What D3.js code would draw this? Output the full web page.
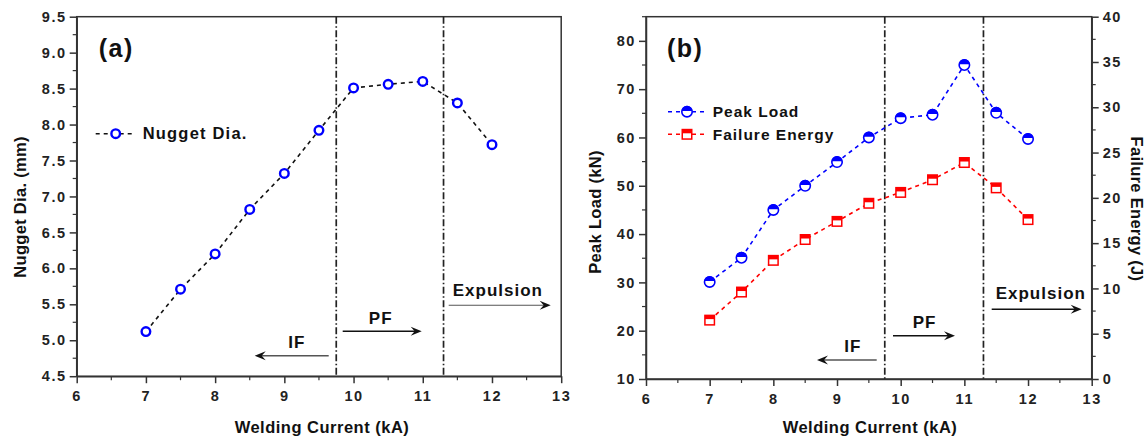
<!DOCTYPE html>
<html>
<head>
<meta charset="utf-8">
<script src="https://cdn.jsdelivr.net/npm/d3@7"></script>
<style>
  body { margin: 0; background: #fff; }
  svg { font-family: "Liberation Sans", Arial, sans-serif; }
  .tick text { font-size: 14.5px; font-weight: bold; fill: #222; letter-spacing: 1.6px; }
  .domain, .tick line { stroke: #333; stroke-width: 1.5; }
</style>
</head>
<body>
<svg width="1148" height="441"></svg>
<script>
// values
var current = [7, 7.5, 8, 8.5, 9, 9.5, 10, 10.5, 11, 11.5, 12];
var nuggetDia = [5.12, 5.71, 6.2, 6.82, 7.32, 7.92, 8.51, 8.56, 8.6, 8.3, 7.72];
var peakLoad = [30.1, 35.1, 45, 50, 54.9, 60, 64, 64.7, 75, 65.1, 59.7];
var failureEnergy = [6.5, 9.6, 13.1, 15.4, 17.4, 19.4, 20.6, 22.0, 23.9, 21.1, 17.6];
var xTicks = [6, 7, 8, 9, 10, 11, 12, 13];
var diaTicks = [4.5, 5.0, 5.5, 6.0, 6.5, 7.0, 7.5, 8.0, 8.5, 9.0, 9.5];
var loadTicks = [10, 20, 30, 40, 50, 60, 70, 80];
var energyTicks = [0, 5, 10, 15, 20, 25, 30, 35, 40];
var zoneLines = [9.75, 11.3];

var svg = d3.select("svg");

function minorTicks(g, scale, lo, hi, step, orient) {
    var vals = d3.range(lo, hi + 1e-9, step);
    g.selectAll(null).data(vals).enter().append("line")
        .attr("stroke", "#333").attr("stroke-width", 1.2)
        .each(function (v) {
            var s = d3.select(this);
            if (orient == "bottom") s.attr("x1", scale(v)).attr("x2", scale(v)).attr("y1", 0).attr("y2", 4);
            if (orient == "left") s.attr("y1", scale(v)).attr("y2", scale(v)).attr("x1", 0).attr("x2", -4);
            if (orient == "right") s.attr("y1", scale(v)).attr("y2", scale(v)).attr("x1", 0).attr("x2", 4);
        });
}

function frame(g, w, h) {
    g.append("rect").attr("width", w).attr("height", h)
        .attr("fill", "none").attr("stroke", "#333").attr("stroke-width", 1.5);
}

function zones(g, x, h) {
    g.selectAll(null).data(zoneLines).enter().append("line")
        .attr("x1", function (d) {return x(d);})
        .attr("x2", function (d) {return x(d);})
        .attr("y1", 0).attr("y2", h)
        .attr("stroke", "#222").attr("stroke-width", 1.7)
        .attr("stroke-dasharray", "7,2.5,1.5,2.5");
}

function arrow(g, x1, x2, y, color, width) {
    var dir = x2 > x1 ? 1 : -1;
    g.append("line").attr("x1", x1).attr("x2", x2 - dir * 4).attr("y1", y).attr("y2", y)
        .attr("stroke", color).attr("stroke-width", width);
    g.append("path")
        .attr("d", "M" + x2 + "," + y + "L" + (x2 - dir * 11) + "," + (y - 4.5) +
            "L" + (x2 - dir * 7) + "," + y + "L" + (x2 - dir * 11) + "," + (y + 4.5) + "Z")
        .attr("fill", "#111");
}

function label(g, x, y, txt, size, weight, anchor, spacing) {
    return g.append("text").attr("x", x).attr("y", y).text(txt)
        .attr("font-size", size).attr("font-weight", weight || "bold")
        .attr("letter-spacing", spacing == null ? 1 : spacing)
        .attr("text-anchor", anchor || "start").attr("fill", "#111");
}

function halfCircle(g, cx, cy, r, color) {
    g.append("circle").attr("cx", cx).attr("cy", cy).attr("r", r)
        .attr("fill", "#fff").attr("stroke", color).attr("stroke-width", 1.6);
    g.append("path")
        .attr("d", "M" + (cx - r) + "," + (cy - 0.8) + "A" + r + "," + r + " 0 0 1 " + (cx + r) + "," + (cy - 0.8) + "Z")
        .attr("fill", color);
}

function halfSquare(g, cx, cy, s, color) {
    g.append("rect").attr("x", cx - s / 2).attr("y", cy - s / 2).attr("width", s).attr("height", s)
        .attr("fill", "#fff").attr("stroke", color).attr("stroke-width", 1.5);
    g.append("rect").attr("x", cx - s / 2).attr("y", cy - s / 2).attr("width", s).attr("height", s / 2 - 1)
        .attr("fill", color);
}

// ---------- panel (a) ----------
var wA = 484.5, hA = 359.5;
var gA = svg.append("g").attr("transform", "translate(76.7,16.7)");
var xA = d3.scaleLinear().domain([6, 13]).range([0, wA]);
var yA = d3.scaleLinear().domain([4.5, 9.5]).range([hA, 0]);

frame(gA, wA, hA);
gA.append("g").attr("transform", "translate(0," + hA + ")")
    .call(d3.axisBottom(xA).tickValues(xTicks).tickFormat(d3.format("d")).tickSize(7).tickSizeOuter(0).tickPadding(8))
    .call(function (g) {minorTicks(g, xA, 6.5, 12.5, 1, "bottom");});
gA.append("g")
    .call(d3.axisLeft(yA).tickValues(diaTicks).tickFormat(d3.format(".1f")).tickSize(7).tickSizeOuter(0).tickPadding(3))
    .call(function (g) {minorTicks(g, yA, 4.75, 9.25, 0.5, "left");});

zones(gA, xA, hA);

var lineA = d3.line().x(function (d, i) {return xA(current[i]);}).y(function (d) {return yA(d);});
gA.append("path").datum(nuggetDia).attr("d", lineA)
    .attr("fill", "none").attr("stroke", "#111").attr("stroke-width", 1.6).attr("stroke-dasharray", "4,4");
gA.selectAll(".pt").data(nuggetDia).enter().append("circle")
    .attr("cx", function (d, i) {return xA(current[i]);})
    .attr("cy", function (d) {return yA(d);})
    .attr("r", 4.3).attr("fill", "#fff").attr("stroke", "#0000ff").attr("stroke-width", 2.4);

// legend (a)
gA.append("line").attr("x1", 19).attr("x2", 58).attr("y1", 117).attr("y2", 117)
    .attr("stroke", "#111").attr("stroke-width", 1.6).attr("stroke-dasharray", "4,4");
gA.append("circle").attr("cx", 39).attr("cy", 117).attr("r", 4.3)
    .attr("fill", "#fff").attr("stroke", "#0000ff").attr("stroke-width", 2.4);
label(gA, 66, 122.5, "Nugget Dia.", 16.5, "bold", "start", 1.2);
label(gA, 22, 40.7, "(a)", 25, "bold", "start", 1.5);

arrow(gA, 252, 178, 339, "#555", 1.4);
label(gA, 211.5, 331, "IF", 17);
arrow(gA, 266, 345, 314.5, "#111", 1.6);
label(gA, 304, 307.6, "PF", 17, "bold", "middle");
arrow(gA, 372, 474, 288.5, "#555", 1.1);
label(gA, 376, 279.3, "Expulsion", 17);

svg.append("text").attr("x", 322).attr("y", 433).attr("text-anchor", "middle")
    .attr("font-size", 16.5).attr("font-weight", "bold").attr("letter-spacing", 0.5).attr("fill", "#111")
    .text("Welding Current (kA)");
svg.append("text").attr("transform", "translate(26,207) rotate(-90)").attr("text-anchor", "middle")
    .attr("font-size", 16.5).attr("font-weight", "bold").attr("letter-spacing", 0.3).attr("fill", "#111")
    .text("Nugget Dia. (mm)");

// ---------- panel (b) ----------
var wB = 445.7, hB = 362.3;
var gB = svg.append("g").attr("transform", "translate(646,16.7)");
var xB = d3.scaleLinear().domain([6, 13]).range([0, wB]);
var yB = d3.scaleLinear().domain([10, 85]).range([hB, 0]);
var yB2 = d3.scaleLinear().domain([0, 40]).range([hB, 0]);

frame(gB, wB, hB);
gB.append("g").attr("transform", "translate(0," + hB + ")")
    .call(d3.axisBottom(xB).tickValues(xTicks).tickFormat(d3.format("d")).tickSize(7).tickSizeOuter(0).tickPadding(8))
    .call(function (g) {minorTicks(g, xB, 6.5, 12.5, 1, "bottom");});
gB.append("g")
    .call(d3.axisLeft(yB).tickValues(loadTicks).tickFormat(d3.format("d")).tickSize(7).tickSizeOuter(0).tickPadding(3))
    .call(function (g) {minorTicks(g, yB, 15, 85, 10, "left");});
gB.append("g").attr("transform", "translate(" + wB + ",0)")
    .call(d3.axisRight(yB2).tickValues(energyTicks).tickFormat(d3.format("d")).tickSize(7).tickSizeOuter(0).tickPadding(4))
    .call(function (g) {minorTicks(g, yB2, 2.5, 37.5, 5, "right");});

zones(gB, xB, hB);

var lineLoad = d3.line().x(function (d, i) {return xB(current[i]);}).y(function (d) {return yB(d);});
var lineEnergy = d3.line().x(function (d, i) {return xB(current[i]);}).y(function (d) {return yB2(d);});
gB.append("path").datum(peakLoad).attr("d", lineLoad)
    .attr("fill", "none").attr("stroke", "#0000ff").attr("stroke-width", 1.6).attr("stroke-dasharray", "4,4");
gB.append("path").datum(failureEnergy).attr("d", lineEnergy)
    .attr("fill", "none").attr("stroke", "#ff0000").attr("stroke-width", 1.6).attr("stroke-dasharray", "4,4");
peakLoad.forEach(function (d, i) {halfCircle(gB, xB(current[i]), yB(d), 5.2, "#0000ff");});
failureEnergy.forEach(function (d, i) {halfSquare(gB, xB(current[i]), yB2(d), 9.5, "#ff0000");});

// legend (b)
gB.append("line").attr("x1", 22).attr("x2", 60).attr("y1", 95).attr("y2", 95)
    .attr("stroke", "#0000ff").attr("stroke-width", 1.6).attr("stroke-dasharray", "4,4");
halfCircle(gB, 41, 95, 5.2, "#0000ff");
label(gB, 66.7, 100.6, "Peak Load", 15.5, "bold", "start", 1);
gB.append("line").attr("x1", 22).attr("x2", 60).attr("y1", 117.6).attr("y2", 117.6)
    .attr("stroke", "#ff0000").attr("stroke-width", 1.6).attr("stroke-dasharray", "4,4");
halfSquare(gB, 41, 117.6, 9.5, "#ff0000");
label(gB, 66.7, 123.3, "Failure Energy", 15.5, "bold", "start", 1);
label(gB, 21, 40.7, "(b)", 25, "bold", "start", 1.5);

arrow(gB, 230.7, 171, 343.3, "#555", 1.4);
label(gB, 198.3, 335, "IF", 17);
arrow(gB, 247, 309, 319, "#111", 1.6);
label(gB, 278.5, 311.6, "PF", 17, "bold", "middle");
arrow(gB, 345.7, 435.7, 292.6, "#111", 1.4);
label(gB, 349.7, 282.3, "Expulsion", 17);

svg.append("text").attr("x", 870).attr("y", 433).attr("text-anchor", "middle")
    .attr("font-size", 16.5).attr("font-weight", "bold").attr("letter-spacing", 0.5).attr("fill", "#111")
    .text("Welding Current (kA)");
svg.append("text").attr("transform", "translate(601,212) rotate(-90)").attr("text-anchor", "middle")
    .attr("font-size", 16.5).attr("font-weight", "bold").attr("letter-spacing", 0.3).attr("fill", "#111")
    .text("Peak Load (kN)");
svg.append("text").attr("transform", "translate(1131,209) rotate(90)").attr("text-anchor", "middle")
    .attr("font-size", 16.5).attr("font-weight", "bold").attr("letter-spacing", 0.3).attr("fill", "#111")
    .text("Failure Energy (J)");
</script>
</body>
</html>
